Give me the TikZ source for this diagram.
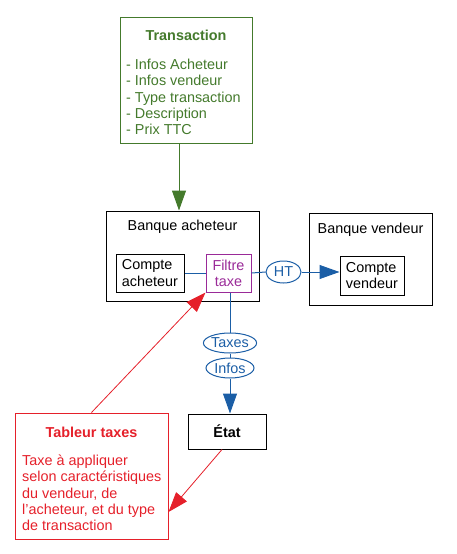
\documentclass[tikz,border=0pt]{standalone}
\usepackage{fontspec}
\setmainfont{Liberation Sans}
\usetikzlibrary{arrows.meta,shapes.geometric,calc}
\definecolor{cgreen}{HTML}{447A2C}
\definecolor{cblue}{HTML}{1B5EA6}
\definecolor{cred}{HTML}{E5202A}
\definecolor{cpurple}{HTML}{9A2A98}
\tikzset{
  box/.style={draw, line width=1pt, inner sep=0pt},
  lbl/.style={inner sep=0pt, align=center},
  lst/.style={inner sep=0pt, align=left, anchor=west},
  big/.style={-{Triangle[length=20pt,width=14pt]}},
  bl/.style={cblue, line width=1pt},
  rl/.style={cred, line width=0.8pt},
  ell/.style={ellipse, draw=cblue, line width=1pt, inner sep=0pt, text=cblue}
}
\begin{document}
\begin{tikzpicture}[x=1pt,y=-1pt,font=\fontsize{14.4}{16.3}\selectfont]
\useasboundingbox (0,0) rectangle (457,554);
% Transaction
\node[box, draw=cgreen, minimum width=132pt, minimum height=126pt] (trans) at (186,80) {};
\node[lbl, text=cgreen, font=\fontsize{14.4}{16.3}\selectfont\bfseries] (transT) at (186,35) {Transaction};
\node[lst, text=cgreen] (transL) at (126,97) {- Infos Acheteur\\- Infos vendeur\\- Type transaction\\- Description\\- Prix TTC};
% Banque acheteur
\node[box, minimum width=153pt, minimum height=90pt] (bacht) at (182.5,256) {};
\node[lbl] (bachtT) at (182.5,227) {Banque acheteur};
\node[box, minimum width=68pt, minimum height=38pt] (cacht) at (150,273) {};
\node[lbl, align=left] (cachtT) at (150,273) {Compte\\acheteur};
\node[box, draw=cpurple, minimum width=45pt, minimum height=38pt] (filtre) at (228.5,273) {};
\node[lbl, text=cpurple] (filtreT) at (228.5,273) {Filtre\\taxe};
% Banque vendeur
\node[box, minimum width=123pt, minimum height=92pt] (bvend) at (370.5,259) {};
\node[lbl] (bvendT) at (370.5,230) {Banque vendeur};
\node[box, minimum width=64pt, minimum height=39pt] (cvend) at (372,275.5) {};
\node[lbl, align=left] (cvendT) at (372,275.5) {Compte\\vendeur};
% ellipses
\node[ell, minimum width=35pt, minimum height=22pt] (ht) at (283.5,272) {HT};
\node[ell, minimum width=51pt, minimum height=20pt] (taxes) at (230,343) {Taxes};
\node[ell, minimum width=48pt, minimum height=20pt] (infos) at (230,368) {Infos};
% Etat
\node[box, minimum width=78pt, minimum height=35pt] (etat) at (227,431.5) {};
\node[lbl, font=\fontsize{14.4}{16.3}\selectfont\bfseries] (etatT) at (227,431.5) {État};
% Tableur taxes
\node[box, draw=cred, minimum width=153pt, minimum height=126pt] (tab) at (91.5,476) {};
\node[lbl, text=cred, font=\fontsize{14.4}{16.3}\selectfont\bfseries] (tabT) at (91.5,432) {Tableur taxes};
\node[lst, text=cred] (tabL) at (22,493) {Taxe à appliquer\\selon caractéristiques\\du vendeur, de\\l'acheteur, et du type\\de transaction};
% connectors
\coordinate (g1) at ($(trans.south)+(-7,0)$);
\draw[cgreen, line width=1pt, big] (g1) -- (g1 |- bacht.north);
\draw[bl] (cacht.east |- filtre.west) -- (filtre.west);
\draw[bl] (filtre.east) -- (ht.west);
\draw[bl, big] (ht.east) -- (cvend.west |- ht.east);
\draw[bl] (filtre.south -| taxes.north) -- (taxes.north);
\draw[bl] (taxes.south) -- (infos.north);
\draw[bl, big] (infos.south) -- (infos.south |- etat.north);
\draw[rl, big] (tab.north) -- (filtre.south west);
\draw[rl, big] ($(etat.south)+(-5,0)$) -- ($(tab.east)+(0,36)$);
\end{tikzpicture}
\end{document}
